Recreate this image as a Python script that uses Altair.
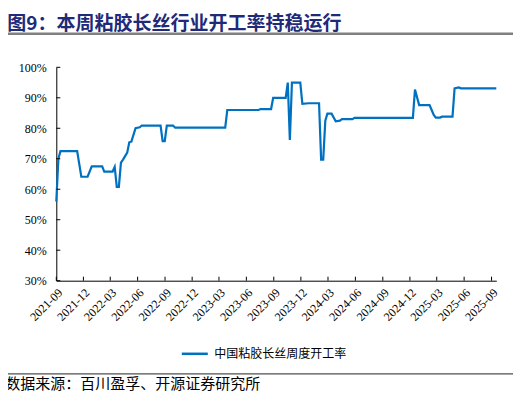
import altair as alt
import pandas as pd

TITLE = "图9：本周粘胶长丝行业开工率持稳运行"
SOURCE = "数据来源：百川盈孚、开源证券研究所"
SERIES = "中国粘胶长丝周度开工率"

dates = [
    "2021-09-03", "2021-09-10", "2021-09-17", "2021-11-12", "2021-11-26",
    "2021-12-17", "2021-12-31", "2022-02-04", "2022-02-11", "2022-03-11",
    "2022-03-18", "2022-03-25", "2022-04-01", "2022-04-08", "2022-04-15",
    "2022-04-29", "2022-05-06", "2022-05-13", "2022-05-27", "2022-06-10",
    "2022-06-17", "2022-08-12", "2022-08-19", "2022-08-26", "2022-09-02",
    "2022-09-09", "2022-09-30", "2022-10-07", "2023-03-24", "2023-03-31",
    "2023-07-14", "2023-07-21", "2023-08-25", "2023-09-01", "2023-10-13",
    "2023-10-20", "2023-10-27", "2023-11-03", "2023-12-01", "2023-12-08",
    "2023-12-29", "2024-02-02", "2024-02-09", "2024-02-16", "2024-02-23",
    "2024-03-01", "2024-03-15", "2024-03-29", "2024-04-12", "2024-04-19",
    "2024-05-24", "2024-05-31", "2024-12-13", "2024-12-20", "2025-01-03",
    "2025-02-07", "2025-02-14", "2025-02-21", "2025-02-28", "2025-03-14",
    "2025-03-21", "2025-04-25", "2025-05-02", "2025-05-16", "2025-05-23",
    "2025-09-19",
]
values = [
    56.0, 70.0, 72.5, 72.5, 64.1,
    64.1, 67.5, 67.5, 65.8, 65.8,
    67.3, 60.8, 60.8, 68.7, 69.7,
    72.0, 75.4, 75.6, 80.0, 80.3,
    80.9, 80.9, 80.9, 75.8, 75.8,
    80.9, 80.9, 80.2, 80.2, 86.0,
    86.0, 86.3, 86.3, 90.0, 90.0,
    95.0, 76.2, 95.0, 95.0, 88.0,
    88.2, 88.2, 69.7, 69.7, 82.5,
    84.8, 84.8, 82.3, 82.5, 83.0,
    83.0, 83.4, 83.4, 92.7, 87.6,
    87.6, 86.0, 84.4, 83.5, 83.5,
    83.8, 83.8, 93.1, 93.4, 93.1,
    93.1,
]

tick_dates = [
    (2021, 9), (2021, 12), (2022, 3), (2022, 6), (2022, 9), (2022, 12),
    (2023, 3), (2023, 6), (2023, 9), (2023, 12), (2024, 3), (2024, 6),
    (2024, 9), (2024, 12), (2025, 3), (2025, 6), (2025, 9),
]
y_ticks = [30, 40, 50, 60, 70, 80, 90, 100]

W, H = 440, 213.4
BLUE = "#0070C0"

df = pd.DataFrame({"date": dates, "value": values, "series": [SERIES] * len(dates)})
tick_vals = [alt.DateTime(year=y, month=m, date=3, utc=True) for y, m in tick_dates]
tick_df = pd.DataFrame({"date": [f"{y}-{m:02d}-03" for y, m in tick_dates]})
ytick_df = pd.DataFrame({"value": y_ticks})

xscale = alt.Scale(
    type="utc",
    domain=[alt.DateTime(year=2021, month=9, date=3, utc=True),
            alt.DateTime(year=2025, month=9, date=19, utc=True)],
)
yscale = alt.Scale(domain=[30, 100], nice=False, zero=False)

xaxis = alt.Axis(values=tick_vals,
                 labelExpr="utcFormat(datum.value, '%Y-%m')",
                 labelAngle=-45, ticks=False, grid=False,
                 labelFont="Liberation Serif", labelFontSize=12,
                 labelColor="#000000", labelPadding=6,
                 domainColor="#000000", labelOverlap=False)
yaxis = alt.Axis(values=y_ticks, labelExpr="datum.value + '%'",
                 ticks=False, grid=False, labelFont="Liberation Serif",
                 labelFontSize=12, labelColor="#000000", labelPadding=10,
                 domainColor="#000000", labelOverlap=False)

line = alt.Chart(df).mark_line(strokeWidth=2.2).encode(
    x=alt.X("date:T", scale=xscale, title=None, axis=xaxis),
    y=alt.Y("value:Q", scale=yscale, title=None, axis=yaxis),
    color=alt.Color("series:N",
                    scale=alt.Scale(domain=[SERIES], range=[BLUE]),
                    legend=alt.Legend(title=None, orient="none", legendX=124,
                                      legendY=272, symbolType="stroke",
                                      symbolSize=676, symbolStrokeWidth=2.5,
                                      labelFont="Noto Sans CJK SC",
                                      labelFontSize=12, labelColor="#000000",
                                      labelOffset=5, padding=0)),
)

xticks = alt.Chart(tick_df).mark_rule(color="#000000", strokeWidth=1).encode(
    x=alt.X("date:T", scale=xscale, title=None, axis=xaxis),
    y=alt.value(H),
    y2=alt.value(H - 4),
)
yticks = alt.Chart(ytick_df).mark_rule(color="#000000", strokeWidth=1).encode(
    y=alt.Y("value:Q", scale=yscale, title=None, axis=yaxis),
    x=alt.value(0),
    x2=alt.value(4),
)

title = alt.Chart(pd.DataFrame({"t": [TITLE]})).mark_text(
    align="left", baseline="alphabetic", font="Noto Sans CJK SC",
    fontWeight="bold", fontSize=19, color="#1F2A78",
).encode(text="t:N", x=alt.value(-49), y=alt.value(-37.3))

top_rule = alt.Chart(pd.DataFrame({"a": [0]})).mark_rule(
    color="#808080", strokeWidth=2.5
).encode(x=alt.value(-51.3), x2=alt.value(458.7), y=alt.value(-33.5))

bottom_rule = alt.Chart(pd.DataFrame({"a": [0]})).mark_rule(
    color="#505050", strokeWidth=1.2
).encode(x=alt.value(-51.3), x2=alt.value(458.7), y=alt.value(306.5))

source = alt.Chart(pd.DataFrame({"t": [SOURCE]})).mark_text(
    align="left", baseline="alphabetic", font="Noto Sans CJK SC",
    fontSize=15, color="#000000",
).encode(text="t:N", x=alt.value(-51), y=alt.value(322))

chart = alt.layer(
    line, xticks, yticks, title, top_rule, bottom_rule, source
).properties(
    width=W, height=H,
    autosize=alt.AutoSizeParams(type="none"),
    padding={"left": 48.3, "top": 59.3, "right": 16.7, "bottom": 116.3},
).configure_view(stroke=None)

chart.save("out.html", embed_options={"renderer": "svg", "actions": False})
